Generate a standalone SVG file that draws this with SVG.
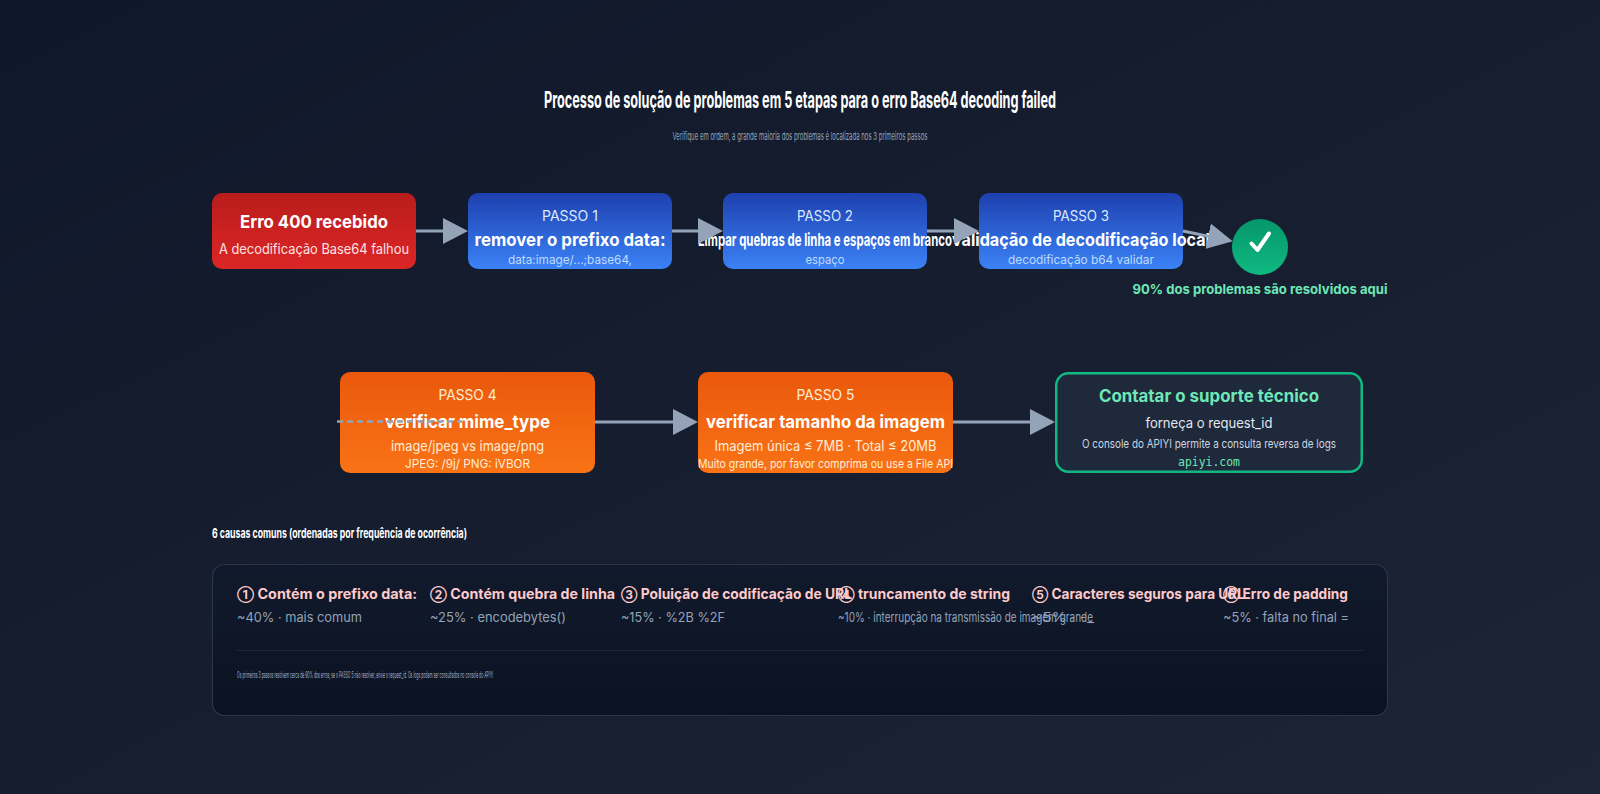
<svg xmlns="http://www.w3.org/2000/svg" width="1600" height="794" viewBox="0 0 1600 794">
<defs>
<linearGradient id="bg" x1="0" y1="0" x2="1" y2="1"><stop offset="0" stop-color="#0f172a"/><stop offset="1" stop-color="#1c2435"/></linearGradient>
<linearGradient id="gRed" x1="0" y1="0" x2="0" y2="1"><stop offset="0" stop-color="#b91c1c"/><stop offset="1" stop-color="#dc2626"/></linearGradient>
<linearGradient id="gBlue" x1="0" y1="0" x2="0" y2="1"><stop offset="0" stop-color="#1e40af"/><stop offset="1" stop-color="#3b82f6"/></linearGradient>
<linearGradient id="gOrange" x1="0" y1="0" x2="0" y2="1"><stop offset="0" stop-color="#ea580c"/><stop offset="1" stop-color="#f97316"/></linearGradient>
<linearGradient id="gGreen" x1="0" y1="0" x2="0" y2="1"><stop offset="0" stop-color="#059669"/><stop offset="1" stop-color="#10b981"/></linearGradient>
<linearGradient id="gPanel" x1="0" y1="0" x2="0" y2="1"><stop offset="0" stop-color="#111a2c"/><stop offset="1" stop-color="#0b1322"/></linearGradient>
<marker id="ah" markerUnits="userSpaceOnUse" viewBox="0 0 25 26" markerWidth="25" markerHeight="26" refX="13" refY="13" orient="auto"><path d="M0,0 L25,13 L0,26 Z" fill="#94a3b8"/></marker>
</defs>
<style>
text{font-family:Inter,"Liberation Sans","DejaVu Sans",sans-serif;text-anchor:middle}
.t{font-weight:700;fill:#ffffff}
.lbl{font-size:14px;fill:#dbeafe}
.lblo{font-size:14px;fill:#ffedd5}
.h{font-size:18px;font-weight:700;fill:#ffffff}
.sb{font-size:12px;fill:#bfdbfe}
.so{font-size:12px;fill:#ffedd5}
.conn{fill:none;stroke:#94a3b8;stroke-width:3}
.ct{font-size:14px;font-weight:700;fill:#fecaca;text-anchor:start}
.num{font-size:12px}
.cd{font-size:13px;fill:#94a3b8;text-anchor:start}
</style>
<rect x="0" y="0" width="1600" height="794" fill="url(#bg)"/>
<g id="title">
<text x="800" y="108" class="t" font-size="23" textLength="512" lengthAdjust="spacingAndGlyphs">Processo de solução de problemas em 5 etapas para o erro Base64 decoding failed</text>
<text x="800" y="140" font-size="11" fill="#94a3b8" textLength="255" lengthAdjust="spacingAndGlyphs">Verifique em ordem, a grande maioria dos problemas é localizada nos 3 primeiros passos</text>
</g>
<g id="node-erro">
<rect x="212" y="193" width="204" height="76" rx="10" fill="url(#gRed)"/>
<text x="314" y="228" class="h" textLength="148" lengthAdjust="spacingAndGlyphs">Erro 400 recebido</text>
<text x="314" y="254" font-size="14" fill="#fee2e2" textLength="190" lengthAdjust="spacingAndGlyphs">A decodificação Base64 falhou</text>
</g>
<g id="node-passo1">
<rect x="468" y="193" width="204" height="76" rx="10" fill="url(#gBlue)"/>
<text x="570" y="221" class="lbl" textLength="56" lengthAdjust="spacingAndGlyphs">PASSO 1</text>
<text x="570" y="246" class="h" textLength="191" lengthAdjust="spacingAndGlyphs">remover o prefixo data:</text>
<text x="570" y="264" class="sb" textLength="124" lengthAdjust="spacingAndGlyphs">data:image/...;base64,</text>
</g>
<g id="node-passo2">
<rect x="723" y="193" width="204" height="76" rx="10" fill="url(#gBlue)"/>
<text x="825" y="221" class="lbl" textLength="56" lengthAdjust="spacingAndGlyphs">PASSO 2</text>
<text x="825" y="246" class="h" font-size="17" textLength="254" lengthAdjust="spacingAndGlyphs">Limpar quebras de linha e espaços em branco</text>
<text x="825" y="264" class="sb" textLength="39" lengthAdjust="spacingAndGlyphs">espaço</text>
</g>
<g id="node-passo3">
<rect x="979" y="193" width="204" height="76" rx="10" fill="url(#gBlue)"/>
<text x="1081" y="221" class="lbl" textLength="56" lengthAdjust="spacingAndGlyphs">PASSO 3</text>
<text x="1081" y="246" class="h" textLength="258" lengthAdjust="spacingAndGlyphs">validação de decodificação local</text>
<text x="1081" y="264" class="sb" textLength="146" lengthAdjust="spacingAndGlyphs">decodificação b64 validar</text>
</g>
<g id="node-ok">
<circle cx="1260" cy="247" r="28" fill="url(#gGreen)"/>
<path d="M1251.5,243.5 L1257.5,250 L1269,233.5" fill="none" stroke="#ffffff" stroke-width="4" stroke-linecap="round" stroke-linejoin="round"/>
<text x="1260" y="294" font-size="13.5" font-weight="700" fill="#6ee7b7" textLength="255" lengthAdjust="spacingAndGlyphs">90% dos problemas são resolvidos aqui</text>
</g>
<g id="node-passo4">
<rect x="340" y="372" width="255" height="101" rx="10" fill="url(#gOrange)"/>
<text x="467.5" y="400" class="lblo" textLength="58" lengthAdjust="spacingAndGlyphs">PASSO 4</text>
<text x="467.5" y="427.5" class="h" textLength="165" lengthAdjust="spacingAndGlyphs">verificar mime_type</text>
<text x="467.5" y="451" font-size="14" fill="#ffedd5" textLength="153" lengthAdjust="spacingAndGlyphs">image/jpeg vs image/png</text>
<text x="467.5" y="467.5" class="so" textLength="125" lengthAdjust="spacingAndGlyphs">JPEG: /9j/ PNG: iVBOR</text>
</g>
<g id="node-passo5">
<rect x="698" y="372" width="255" height="101" rx="10" fill="url(#gOrange)"/>
<text x="825.5" y="400" class="lblo" textLength="58" lengthAdjust="spacingAndGlyphs">PASSO 5</text>
<text x="825.5" y="427.5" class="h" textLength="239" lengthAdjust="spacingAndGlyphs">verificar tamanho da imagem</text>
<text x="825.5" y="451" font-size="14" fill="#ffedd5" textLength="222" lengthAdjust="spacingAndGlyphs">Imagem única ≤ 7MB · Total ≤ 20MB</text>
<text x="825.5" y="467.5" class="so" textLength="255" lengthAdjust="spacingAndGlyphs">Muito grande, por favor comprima ou use a File API</text>
</g>
<g id="node-suporte">
<rect x="1056.25" y="373.25" width="305.5" height="98.5" rx="12" fill="#1e293b" stroke="#10b981" stroke-width="2.5"/>
<text x="1209" y="401.5" font-size="17" font-weight="700" fill="#6ee7b7" textLength="220" lengthAdjust="spacingAndGlyphs">Contatar o suporte técnico</text>
<text x="1209" y="427.5" font-size="14" fill="#e2e8f0" textLength="127" lengthAdjust="spacingAndGlyphs">forneça o request_id</text>
<text x="1209" y="447.5" font-size="12" fill="#cbd5e1" textLength="254" lengthAdjust="spacingAndGlyphs">O console do APIYI permite a consulta reversa de logs</text>
<text x="1209" y="465.5" font-size="11.5" fill="#6ee7b7" style="font-family:'DejaVu Sans Mono','Liberation Mono',monospace" textLength="62" lengthAdjust="spacingAndGlyphs">apiyi.com</text>
</g>
<g id="connectors">
<path class="conn" d="M416,231 L456,231" marker-end="url(#ah)"/>
<path class="conn" d="M672,231 L711,231" marker-end="url(#ah)"/>
<path class="conn" d="M927,231 L967,231" marker-end="url(#ah)"/>
<path class="conn" d="M1183,231 L1220.9,238.9" marker-end="url(#ah)"/>
<path class="conn" d="M595,422 L686,422" marker-end="url(#ah)"/>
<path class="conn" d="M953,422 L1043,422" marker-end="url(#ah)"/>
<path d="M337,421.5 L462,421.5" fill="none" stroke="#94a3b8" stroke-width="2.5" stroke-dasharray="6 4"/>
</g>
<g id="causas">
<text x="212" y="538" font-size="13" font-weight="700" fill="#ffffff" style="text-anchor:start" textLength="255" lengthAdjust="spacingAndGlyphs">6 causas comuns (ordenadas por frequência de ocorrência)</text>
<rect x="212.5" y="564.5" width="1175" height="151" rx="12" fill="url(#gPanel)" stroke="#2a3548" stroke-width="1.2"/>
<text x="237" y="599" class="ct" textLength="180" lengthAdjust="spacingAndGlyphs"><tspan class="num">①</tspan> Contém o prefixo data:</text>
<text x="430" y="599" class="ct" textLength="185" lengthAdjust="spacingAndGlyphs"><tspan class="num">②</tspan> Contém quebra de linha</text>
<text x="621" y="599" class="ct" textLength="231" lengthAdjust="spacingAndGlyphs"><tspan class="num">③</tspan> Poluição de codificação de URL</text>
<text x="838" y="599" class="ct" textLength="172" lengthAdjust="spacingAndGlyphs"><tspan class="num">④</tspan> truncamento de string</text>
<text x="1032" y="599" class="ct" textLength="213" lengthAdjust="spacingAndGlyphs"><tspan class="num">⑤</tspan> Caracteres seguros para URL</text>
<text x="1223" y="599" class="ct" textLength="125" lengthAdjust="spacingAndGlyphs"><tspan class="num">⑥</tspan> Erro de padding</text>
<text x="237" y="622" class="cd" textLength="125" lengthAdjust="spacingAndGlyphs">~40% · mais comum</text>
<text x="430" y="622" class="cd" textLength="136" lengthAdjust="spacingAndGlyphs">~25% · encodebytes()</text>
<text x="621" y="622" class="cd" textLength="104" lengthAdjust="spacingAndGlyphs">~15% · %2B %2F</text>
<text x="838" y="622" class="cd" textLength="255" lengthAdjust="spacingAndGlyphs">~10% · interrupção na transmissão de imagem grande</text>
<text x="1032" y="622" class="cd" textLength="62" lengthAdjust="spacingAndGlyphs">~5% · -_</text>
<text x="1223" y="622" class="cd" textLength="126" lengthAdjust="spacingAndGlyphs">~5% · falta no final =</text>
<line x1="237" y1="650.5" x2="1363" y2="650.5" stroke="#1f2a3d" stroke-width="1"/>
<text x="237" y="678" font-size="8.5" fill="#a3b1c6" style="text-anchor:start" textLength="256" lengthAdjust="spacingAndGlyphs">Os primeiros 3 passos resolvem cerca de 90% dos erros; se o PASSO 5 não resolver, envie o request_id. Os logs podem ser consultados no console do APIYI</text>
</g>
</svg>
